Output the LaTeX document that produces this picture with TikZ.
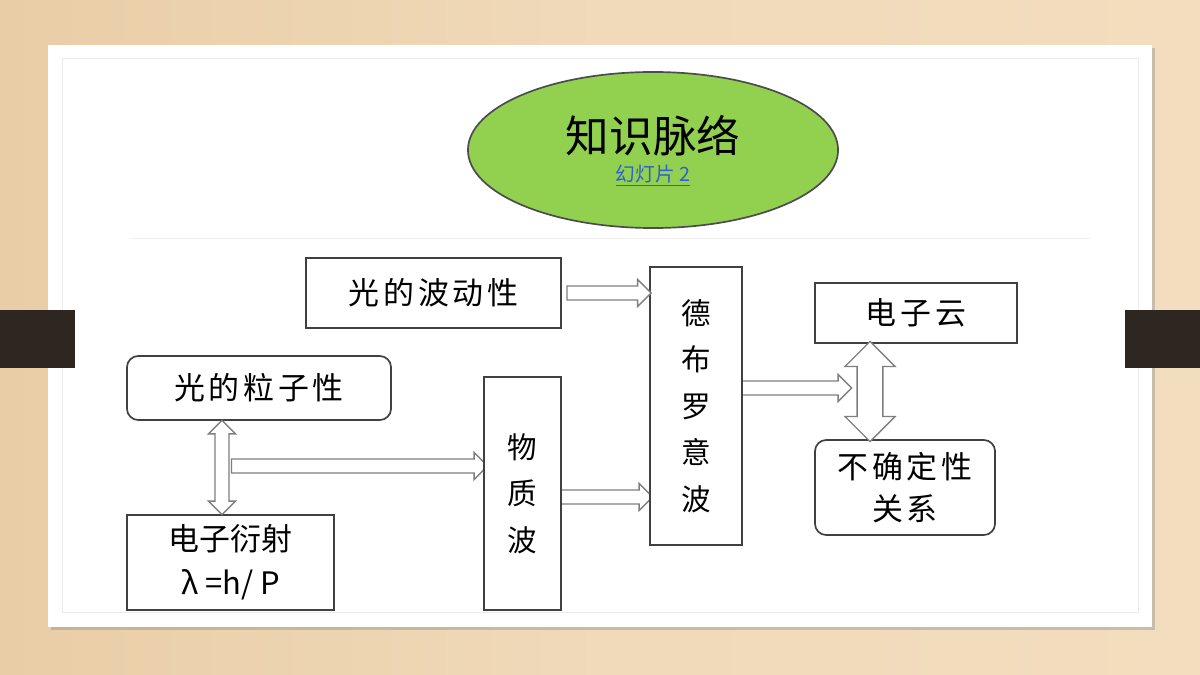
\documentclass[tikz,border=0pt]{standalone}
\usepackage{fontspec}
\newfontfamily\cjk{Noto Sans CJK SC}
\newfontfamily\cjkwide[LetterSpace=12]{Noto Sans CJK SC}
\usetikzlibrary{positioning,calc,shapes.geometric,shapes.arrows,shadows}
\definecolor{wood}{HTML}{E9CDA6}
\definecolor{woodlight}{HTML}{F2DDBE}
\definecolor{bar}{HTML}{2E2620}
\definecolor{leaf}{HTML}{92D050}
\definecolor{linkblue}{HTML}{2F5FD0}
\definecolor{arrowgray}{HTML}{7F7F7F}
\tikzset{
  box/.style={draw=black!75, line width=1.2pt, fill=white, inner sep=0pt},
  rbox/.style={box, rounded corners=8pt},
  boxtext/.style={font=\cjkwide\fontsize{22}{30}\selectfont},
  vtext/.style={font=\cjk\fontsize{21}{33}\selectfont, align=center},
  blk/.style={single arrow, draw=arrowgray, line width=1pt, fill=white,
    inner sep=4.5pt, single arrow head extend=4.5pt, single arrow tip angle=90,
    single arrow head indent=0pt, minimum width=19pt},
  dblk/.style={double arrow, draw=arrowgray, line width=1pt, fill=white,
    inner sep=4.5pt, double arrow head extend=4.5pt, double arrow tip angle=90,
    double arrow head indent=0pt, minimum width=19pt},
}
\begin{document}
\begin{tikzpicture}[x=0.025cm,y=-0.025cm]
  \useasboundingbox (0,0) rectangle (1200,675);
  % background
  \shade[left color=wood, right color=woodlight, middle color=woodlight!80!wood] (0,0) rectangle (1200,675);
  \fill[white, drop shadow={opacity=0.35, shadow xshift=2pt, shadow yshift=-2pt}] (48,45) rectangle (1152,627);
  \draw[black!8] (62,58) rectangle (1138,612);
  \draw[black!6] (130,238) -- (1090,238);
  \fill[bar] (0,310) rectangle (75,368);
  \fill[bar] (1125,310) rectangle (1200,368);

  % title
  \node (title) [ellipse, draw=black!70, line width=1.2pt, fill=leaf, inner sep=0pt,
    minimum width=9.25cm, minimum height=3.9cm] at (653,150) {};
  \node (titletext) at (653,136) {\cjk\fontsize{31}{38}\selectfont 知识脉络};
  \node (link) [text=linkblue, below=-1pt of titletext] {\cjk\fontsize{14}{17}\selectfont\underline{幻灯片 2}};

  % boxes
  \node (wave) [box, minimum width=6.375cm, minimum height=1.75cm, boxtext] at (433.5,293) {光的波动性};
  \node (particle) [rbox, minimum width=6.6cm, minimum height=1.6cm, boxtext] at (259,388) {光的粒子性};
  \node (diffr) [box, minimum width=5.175cm, minimum height=2.375cm, align=center,
    font=\cjk\fontsize{22}{33}\selectfont] at (230.5,562.5) {电子衍射\\[-2pt]λ =h/ P};
  % arrows behind the tall boxes
  \node (a2) [blk, minimum height=6.4cm] at (356,466) {};
  \node (a3) [blk, minimum height=2.6cm] at (597,497) {};
  \node (a4) [blk, minimum height=3.1cm] at (786,388) {};
  \node (matter) [box, minimum width=1.925cm, minimum height=5.825cm, vtext] at (522.5,493.5) {物\\质\\波};
  \node (dbw) [box, minimum width=2.3cm, minimum height=6.95cm, vtext] at (696,406) {德\\布\\罗\\意\\波};
  \node (cloud) [box, minimum width=5.05cm, minimum height=1.5cm, boxtext] at (916,313) {电子云};
  \node (uncert) [rbox, minimum width=4.5cm, minimum height=2.375cm, align=center,
    font=\cjkwide\fontsize{22}{30}\selectfont] at (905,487.5) {不确定性\\关系};

  % block arrows
  \node (a1) [blk, minimum height=2.1cm] at ($(wave.east)!0.5!(dbw.west |- wave.east)$) {};
  \node (a5) [dblk, rotate=90, minimum height=2.35cm] at ($(222,0 |- particle.south)!0.5!(222,0 |- diffr.north)$) {};
  \node (a6) [dblk, rotate=90, minimum height=2.5cm, inner sep=8pt, double arrow head extend=8pt, minimum width=1.25cm]
    at ($(870,0 |- cloud.south)!0.5!(870,0 |- uncert.north)$) {};
\end{tikzpicture}
\end{document}
